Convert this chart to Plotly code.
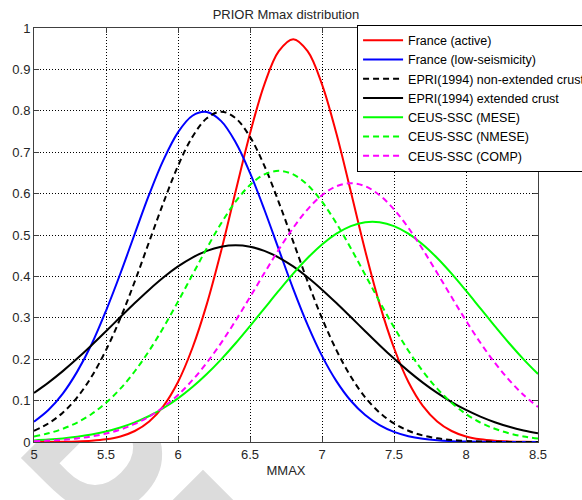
import plotly.graph_objects as go

# ---------------- data ----------------
mmax = [5.0, 5.1, 5.2, 5.3, 5.4, 5.5, 5.6, 5.7, 5.8, 5.9,
        6.0, 6.1, 6.2, 6.3, 6.4, 6.5, 6.6, 6.7, 6.8, 6.9,
        7.0, 7.1, 7.2, 7.3, 7.4, 7.5, 7.6, 7.7, 7.8, 7.9,
        8.0, 8.1, 8.2, 8.3, 8.4, 8.5]

france_active = [0.0001, 0.0002, 0.0005, 0.0012, 0.0029, 0.0064, 0.0134, 0.0266, 0.0497, 0.0875,
                 0.145, 0.227, 0.333, 0.462, 0.605, 0.745, 0.864, 0.944, 0.973, 0.944,
                 0.864, 0.745, 0.605, 0.462, 0.333, 0.227, 0.145, 0.0875, 0.0497, 0.0266,
                 0.0134, 0.0064, 0.0029, 0.0012, 0.0005, 0.0002]

france_low = [0.0492, 0.0774, 0.117, 0.170, 0.236, 0.317, 0.407, 0.503, 0.598, 0.682,
              0.748, 0.788, 0.797, 0.775, 0.724, 0.650, 0.561, 0.465, 0.370, 0.283,
              0.208, 0.147, 0.0996, 0.0650, 0.0407, 0.0245, 0.0141, 0.0079, 0.0042, 0.0021,
              0.0011, 0.0005, 0.0002, 0.0001, 0.0, 0.0]

epri_nonext = [0.0272, 0.0448, 0.0709, 0.108, 0.158, 0.222, 0.299, 0.388, 0.484, 0.579,
               0.667, 0.737, 0.782, 0.798, 0.782, 0.737, 0.667, 0.579, 0.484, 0.388,
               0.299, 0.222, 0.158, 0.108, 0.0709, 0.0448, 0.0272, 0.0158, 0.0089, 0.0048,
               0.0025, 0.0012, 0.0006, 0.0003, 0.0001, 0.0]

epri_ext = [0.1185, 0.1434, 0.1712, 0.2015, 0.2338, 0.2676, 0.3018, 0.3357, 0.3680, 0.3979,
            0.4241, 0.4456, 0.4617, 0.4716, 0.4750, 0.4716, 0.4617, 0.4456, 0.4241, 0.3979,
            0.3680, 0.3357, 0.3018, 0.2676, 0.2338, 0.2015, 0.1712, 0.1434, 0.1185, 0.0965,
            0.0774, 0.0613, 0.0478, 0.0368, 0.0279, 0.0209]

ceus_mese = [0.0039, 0.0059, 0.0087, 0.0127, 0.0181, 0.0254, 0.0350, 0.0473, 0.0628, 0.0821,
             0.1053, 0.1327, 0.1642, 0.1997, 0.2385, 0.2800, 0.3227, 0.3654, 0.4066, 0.4444,
             0.4771, 0.5032, 0.5215, 0.5308, 0.5308, 0.5215, 0.5032, 0.4771, 0.4444, 0.4066,
             0.3654, 0.3227, 0.2800, 0.2385, 0.1997, 0.1642]

ceus_nmese = [0.0135, 0.0210, 0.0319, 0.0470, 0.0676, 0.0946, 0.1288, 0.1709, 0.2206, 0.2772,
              0.3391, 0.4038, 0.4681, 0.5283, 0.5804, 0.6207, 0.6463, 0.6550, 0.6463, 0.6207,
              0.5804, 0.5283, 0.4681, 0.4038, 0.3391, 0.2772, 0.2206, 0.1709, 0.1288, 0.0946,
              0.0676, 0.0470, 0.0319, 0.0210, 0.0135, 0.0084]

ceus_comp = [0.0020, 0.0034, 0.0055, 0.0087, 0.0135, 0.0204, 0.0302, 0.0436, 0.0614, 0.0846,
             0.1137, 0.1493, 0.1914, 0.2396, 0.2931, 0.3500, 0.4082, 0.4649, 0.5172, 0.5619,
             0.5961, 0.6177, 0.6250, 0.6177, 0.5961, 0.5619, 0.5172, 0.4649, 0.4082, 0.3500,
             0.2931, 0.2396, 0.1914, 0.1493, 0.1137, 0.0846]

series_names = ["France (active)", "France (low-seismicity)",
                "EPRI(1994) non-extended crust", "EPRI(1994) extended crust",
                "CEUS-SSC (MESE)", "CEUS-SSC (NMESE)", "CEUS-SSC (COMP)"]

x_tick_vals = [5, 5.5, 6, 6.5, 7, 7.5, 8, 8.5]
x_tick_text = ["5", "5.5", "6", "6.5", "7", "7.5", "8", "8.5"]
y_tick_vals = [0, 0.1, 0.2, 0.3, 0.4, 0.5, 0.6, 0.7, 0.8, 0.9, 1]
y_tick_text = ["0", "0.1", "0.2", "0.3", "0.4", "0.5", "0.6", "0.7", "0.8", "0.9", "1"]

title_text = "PRIOR Mmax distribution"
x_title = "MMAX"
watermark_text = "DRAFT"

# ---------------- styles ----------------
FONT = "Liberation Sans, Arial, Helvetica, sans-serif"
styles = [
    dict(color="#ff0000", dash="solid"),
    dict(color="#0000ff", dash="solid"),
    dict(color="#000000", dash="6px,4px"),
    dict(color="#000000", dash="solid"),
    dict(color="#00ff00", dash="solid"),
    dict(color="#00ff00", dash="6px,4px"),
    dict(color="#ff00ff", dash="6px,4px"),
]
all_series = [france_active, france_low, epri_nonext, epri_ext,
              ceus_mese, ceus_nmese, ceus_comp]

fig = go.Figure()
for name, ys, st in zip(series_names, all_series, styles):
    fig.add_trace(go.Scatter(
        x=mmax, y=ys, name=name, mode="lines",
        line=dict(color=st["color"], dash=st["dash"], width=2, shape="spline", smoothing=1.0),
    ))

axis_common = dict(
    showgrid=True, gridcolor="#000000", gridwidth=1, griddash="1px,2px",
    showline=True, linecolor="#404040", linewidth=1, mirror="ticks",
    ticks="inside", ticklen=5, tickcolor="#404040",
    zeroline=False,
    tickfont=dict(family=FONT, size=13, color="#262626"),
)

fig.update_layout(
    width=582, height=500,
    margin=dict(l=34, r=44, t=28, b=58, autoexpand=False),
    paper_bgcolor="white", plot_bgcolor="white",
    font=dict(family=FONT, size=13, color="#262626"),
    title=dict(text=title_text, x=0.5, xref="paper", xanchor="center",
               y=1 - 14 / 500, yref="container", yanchor="middle",
               font=dict(family=FONT, size=13, color="#262626")),
    xaxis=dict(range=[5, 8.5], tickvals=x_tick_vals, ticktext=x_tick_text,
               title=dict(text=x_title, standoff=5,
                          font=dict(family=FONT, size=13, color="#262626")),
               **axis_common),
    yaxis=dict(range=[0, 1], tickvals=y_tick_vals, ticktext=y_tick_text,
               ticklabelstandoff=0, **axis_common),
    legend=dict(x=0.641, y=1.008, xanchor="left", yanchor="top",
                bgcolor="white", bordercolor="#000000", borderwidth=1,
                font=dict(family=FONT, size=12.5, color="#000000"),
                itemwidth=40, tracegroupgap=0),
    showlegend=True,
    shapes=[
        # faint watermark behind the chart
        dict(type="rect", xref="paper", yref="paper",
             x0=0.4727, x1=0.4927, y0=-0.4315, y1=-0.4115,
             line=dict(width=0), fillcolor="rgba(0,0,0,0)", layer="below",
             label=dict(text=watermark_text, textangle=45, textposition="middle center",
                        font=dict(family="DejaVu Sans", size=165,
                                  color="#dcdcdc", weight="bold"))),
        # plot-area background hides the watermark inside the axes
        dict(type="rect", xref="paper", yref="paper", x0=0, x1=1, y0=0, y1=1,
             line=dict(width=0), fillcolor="white", layer="below"),
    ],
)

fig.write_html("out.html", config={"displayModeBar": False},
               post_script="document.body.style.margin='0';document.body.style.padding='0';")
